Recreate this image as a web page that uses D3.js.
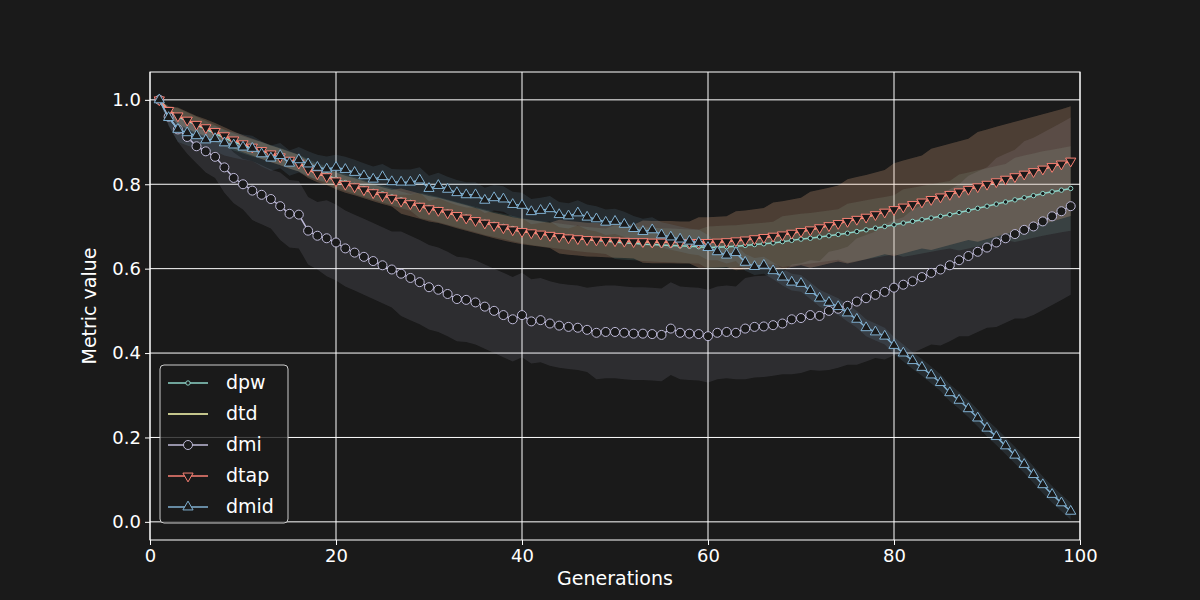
<!DOCTYPE html>
<html lang="en">
<head>
<meta charset="utf-8">
<title>Metric value over generations</title>
<script src="https://cdn.jsdelivr.net/npm/d3@7"></script>
<style>
  html, body { margin: 0; background-color: #1a1a1a; }
  text { font-family: "DejaVu Sans", sans-serif; fill: white; }
</style>
</head>
<body>
<script>
// ---- data ----
var dpw = [1.000,0.975,0.960,0.950,0.940,0.930,0.920,0.910,0.900,0.893,
0.886,0.880,0.873,0.866,0.858,0.850,0.840,0.830,0.822,0.812,
0.804,0.797,0.790,0.783,0.777,0.770,0.763,0.757,0.750,0.745,
0.740,0.734,0.728,0.722,0.716,0.710,0.705,0.700,0.695,0.690,
0.686,0.683,0.680,0.677,0.674,0.671,0.669,0.667,0.665,0.663,
0.661,0.660,0.658,0.657,0.656,0.655,0.654,0.653,0.652,0.650,
0.651,0.652,0.653,0.655,0.657,0.659,0.661,0.664,0.667,0.670,
0.672,0.675,0.678,0.681,0.684,0.688,0.692,0.696,0.700,0.704,
0.708,0.712,0.716,0.720,0.724,0.728,0.733,0.738,0.743,0.748,
0.753,0.758,0.763,0.768,0.773,0.778,0.782,0.786,0.790];
var dtap = [1.000,0.975,0.962,0.952,0.942,0.934,0.925,0.915,0.905,0.896,
0.888,0.880,0.872,0.865,0.857,0.850,0.835,0.825,0.818,0.808,
0.800,0.794,0.787,0.780,0.773,0.767,0.760,0.754,0.748,0.742,
0.738,0.732,0.726,0.720,0.714,0.708,0.702,0.697,0.692,0.688,
0.685,0.682,0.679,0.676,0.673,0.671,0.669,0.668,0.667,0.666,
0.665,0.664,0.664,0.663,0.663,0.663,0.662,0.662,0.662,0.662,
0.663,0.664,0.666,0.668,0.671,0.674,0.677,0.680,0.684,0.688,
0.692,0.697,0.702,0.707,0.712,0.717,0.722,0.728,0.734,0.740,
0.746,0.752,0.758,0.764,0.770,0.776,0.782,0.788,0.794,0.800,
0.806,0.812,0.818,0.824,0.830,0.836,0.842,0.848,0.855];
var dtd = [1.000,0.975,0.962,0.952,0.942,0.934,0.925,0.915,0.905,0.896,
0.888,0.880,0.872,0.865,0.857,0.850,0.835,0.825,0.818,0.808,
0.800,0.794,0.787,0.780,0.773,0.767,0.760,0.754,0.748,0.742,
0.738,0.732,0.726,0.720,0.714,0.708,0.702,0.697,0.692,0.688,
0.685,0.682,0.679,0.676,0.673,0.671,0.669,0.668,0.667,0.666,
0.665,0.664,0.664,0.663,0.663,0.663,0.662,0.662,0.662,0.662,
0.663,0.664,0.666,0.668,0.671,0.674,0.677,0.680,0.684,0.688,
0.692,0.697,0.702,0.707,0.712,0.717,0.722,0.728,0.734,0.740,
0.746,0.752,0.758,0.764,0.770,0.776,0.782,0.788,0.794,0.800,
0.806,0.812,0.818,0.824,0.830,0.836,0.842,0.848,0.855];
var dmi = [1.000,0.960,0.930,0.912,0.890,0.878,0.865,0.840,0.815,0.800,
0.785,0.775,0.765,0.748,0.730,0.728,0.690,0.678,0.672,0.662,
0.648,0.638,0.628,0.618,0.608,0.598,0.588,0.578,0.568,0.556,
0.550,0.540,0.528,0.526,0.520,0.510,0.500,0.490,0.480,0.490,
0.475,0.478,0.470,0.465,0.462,0.460,0.455,0.448,0.450,0.450,
0.448,0.446,0.446,0.445,0.443,0.458,0.448,0.446,0.445,0.440,
0.448,0.450,0.448,0.458,0.462,0.463,0.466,0.470,0.480,0.483,
0.490,0.488,0.500,0.505,0.512,0.522,0.530,0.538,0.545,0.555,
0.562,0.570,0.580,0.590,0.598,0.608,0.620,0.630,0.640,0.650,
0.662,0.672,0.682,0.692,0.700,0.712,0.724,0.736,0.748];
var dmid = [1.000,0.958,0.930,0.922,0.915,0.905,0.908,0.898,0.893,0.888,
0.885,0.872,0.862,0.868,0.850,0.858,0.848,0.840,0.836,0.840,
0.835,0.828,0.820,0.812,0.818,0.806,0.805,0.805,0.810,0.790,
0.797,0.788,0.780,0.775,0.775,0.762,0.768,0.765,0.752,0.750,
0.735,0.738,0.742,0.728,0.725,0.732,0.722,0.718,0.710,0.712,
0.705,0.695,0.688,0.692,0.680,0.675,0.670,0.665,0.662,0.650,
0.640,0.632,0.638,0.615,0.605,0.608,0.595,0.580,0.568,0.565,
0.548,0.530,0.520,0.510,0.495,0.480,0.460,0.450,0.440,0.418,
0.400,0.382,0.366,0.348,0.330,0.306,0.288,0.268,0.246,0.222,
0.202,0.180,0.158,0.136,0.112,0.088,0.065,0.045,0.025];

var tapStd = [0.00,0.01,0.02,0.02,0.02,0.02,0.02,0.02,0.02,0.02,
0.02,0.02,0.02,0.02,0.02,0.02,0.02,0.02,0.02,0.02,
0.02,0.02,0.02,0.02,0.02,0.02,0.03,0.03,0.03,0.03,
0.03,0.03,0.03,0.03,0.03,0.03,0.03,0.03,0.03,0.03,
0.03,0.03,0.03,0.04,0.04,0.04,0.04,0.04,0.04,0.04,
0.04,0.04,0.05,0.05,0.05,0.05,0.05,0.05,0.06,0.06,
0.06,0.06,0.07,0.07,0.07,0.07,0.08,0.08,0.08,0.08,
0.09,0.09,0.09,0.09,0.10,0.10,0.10,0.10,0.10,0.11,
0.11,0.11,0.11,0.12,0.12,0.12,0.12,0.12,0.13,0.13,
0.13,0.13,0.13,0.13,0.13,0.13,0.13,0.13,0.13];
var dpwStd = [0.00,0.01,0.02,0.02,0.02,0.02,0.02,0.02,0.02,0.02,
0.02,0.02,0.02,0.02,0.02,0.02,0.02,0.02,0.02,0.02,
0.02,0.02,0.02,0.02,0.02,0.02,0.02,0.02,0.03,0.03,
0.03,0.03,0.03,0.03,0.03,0.03,0.03,0.03,0.03,0.03,
0.03,0.03,0.03,0.03,0.03,0.03,0.03,0.03,0.03,0.04,
0.04,0.04,0.04,0.04,0.04,0.04,0.04,0.04,0.04,0.05,
0.05,0.05,0.05,0.05,0.05,0.05,0.05,0.06,0.06,0.06,
0.06,0.06,0.06,0.06,0.07,0.07,0.07,0.07,0.07,0.07,
0.08,0.08,0.08,0.08,0.08,0.08,0.09,0.09,0.09,0.09,
0.09,0.09,0.10,0.10,0.10,0.10,0.10,0.10,0.10];
var dmiStd = [0.00,0.02,0.03,0.04,0.04,0.05,0.05,0.06,0.06,0.06,
0.07,0.07,0.07,0.08,0.08,0.08,0.08,0.08,0.09,0.09,
0.09,0.09,0.09,0.09,0.09,0.09,0.10,0.10,0.10,0.10,
0.10,0.10,0.10,0.10,0.10,0.10,0.10,0.10,0.10,0.10,
0.10,0.10,0.10,0.10,0.10,0.10,0.10,0.11,0.11,0.11,
0.11,0.11,0.11,0.11,0.11,0.11,0.11,0.11,0.11,0.11,
0.11,0.11,0.11,0.12,0.12,0.12,0.12,0.12,0.13,0.13,
0.13,0.13,0.14,0.14,0.14,0.15,0.15,0.15,0.16,0.16,
0.16,0.17,0.17,0.17,0.18,0.18,0.18,0.19,0.19,0.19,
0.20,0.20,0.20,0.21,0.21,0.21,0.21,0.21,0.21];
var dmidStd = [0.00,0.02,0.03,0.03,0.03,0.03,0.03,0.03,0.03,0.03,
0.03,0.03,0.03,0.03,0.03,0.03,0.03,0.03,0.03,0.03,
0.03,0.03,0.03,0.03,0.03,0.03,0.03,0.03,0.03,0.03,
0.03,0.03,0.03,0.03,0.03,0.03,0.03,0.03,0.03,0.03,
0.03,0.03,0.03,0.03,0.03,0.03,0.03,0.03,0.03,0.03,
0.03,0.03,0.03,0.03,0.03,0.03,0.03,0.03,0.03,0.03,
0.02,0.02,0.02,0.02,0.02,0.02,0.02,0.02,0.02,0.02,
0.02,0.02,0.02,0.02,0.02,0.02,0.02,0.02,0.02,0.02,
0.02,0.02,0.02,0.02,0.02,0.02,0.02,0.02,0.02,0.02,
0.02,0.02,0.02,0.02,0.02,0.02,0.02,0.02,0.02];

var xTicks = [0, 20, 40, 60, 80, 100];
var yTicks = [0.0, 0.2, 0.4, 0.6, 0.8, 1.0];

var series = [
  {name: "dpw",  values: dpw,  std: dpwStd,  color: "#8dd3c7", marker: "dot"},
  {name: "dtd",  values: dtd,  std: tapStd,  color: "#feffb3", marker: "none"},
  {name: "dmi",  values: dmi,  std: dmiStd,  color: "#bfbbd9", marker: "circle"},
  {name: "dtap", values: dtap, std: tapStd,  color: "#fa8174", marker: "down"},
  {name: "dmid", values: dmid, std: dmidStd, color: "#81b1d2", marker: "up"}
];

var w = 1200, h = 600;
var padL = 150, padR = 1080, padT = 72, padB = 540;

var svg = d3.select("body").append("svg").attr("width", w).attr("height", h);

var x = d3.scaleLinear().domain([0, 100]).range([padL, padR]);
var y = d3.scaleLinear().domain([-0.043, 1.066]).range([padB, padT]);

// grid
svg.append("g").selectAll("line").data(xTicks).enter().append("line")
  .attr("x1", d => x(d)).attr("x2", d => x(d)).attr("y1", padT).attr("y2", padB)
  .attr("stroke", "white").attr("stroke-width", 1);
svg.append("g").selectAll("line").data(yTicks).enter().append("line")
  .attr("y1", d => y(d)).attr("y2", d => y(d)).attr("x1", padL).attr("x2", padR)
  .attr("stroke", "white").attr("stroke-width", 1);

var gen = function(i) { return i + 1; };

// bands
var area = d3.area()
  .x((d, i) => x(gen(i)))
  .y0(d => y(d[0] - d[1]))
  .y1(d => y(d[0] + d[1]));
series.forEach(function(s) {
  svg.append("path")
    .datum(s.values.map((v, i) => [v, s.std[i]]))
    .attr("d", area)
    .attr("fill", s.color)
    .attr("fill-opacity", 0.12);
});

// lines and markers
var line = d3.line().x((d, i) => x(gen(i))).y(d => y(d));
var triUp = d3.symbol().type(d3.symbolTriangle).size(45)();

function drawMarker(g, s, cx, cy) {
  if (s.marker === "dot") {
    g.append("circle").attr("cx", cx).attr("cy", cy).attr("r", 2.2)
      .attr("fill", "#1a1a1a").attr("stroke", s.color).attr("stroke-width", 1);
  } else if (s.marker === "circle") {
    g.append("circle").attr("cx", cx).attr("cy", cy).attr("r", 4.5)
      .attr("fill", "#1a1a1a").attr("stroke", s.color).attr("stroke-width", 1);
  } else if (s.marker === "up" || s.marker === "down") {
    g.append("path").attr("d", triUp)
      .attr("transform", "translate(" + cx + "," + cy + ")" + (s.marker === "down" ? " rotate(180)" : ""))
      .attr("fill", "#1a1a1a").attr("stroke", s.color).attr("stroke-width", 1);
  }
}

series.forEach(function(s) {
  svg.append("path").datum(s.values).attr("d", line)
    .attr("fill", "none").attr("stroke", s.color).attr("stroke-width", 1.5);
  var g = svg.append("g");
  s.values.forEach(function(v, i) { drawMarker(g, s, x(gen(i)), y(v)); });
});

// frame
svg.append("rect").attr("x", padL).attr("y", padT)
  .attr("width", padR - padL).attr("height", padB - padT)
  .attr("fill", "none").attr("stroke", "white").attr("stroke-width", 1);

// axes
var xAxis = svg.append("g").attr("transform", "translate(0," + padB + ")")
  .call(d3.axisBottom(x).tickValues(xTicks).tickSize(5).tickPadding(4));
var yAxis = svg.append("g").attr("transform", "translate(" + padL + ",0)")
  .call(d3.axisLeft(y).tickValues(yTicks).tickFormat(d3.format(".1f")).tickSize(5).tickPadding(4));
[xAxis, yAxis].forEach(function(a) {
  a.select(".domain").remove();
  a.selectAll("line").attr("stroke", "white");
  a.selectAll("text").attr("fill", "white").style("font-size", "18px")
    .style("font-family", "DejaVu Sans, sans-serif");
});

svg.append("text").attr("x", (padL + padR) / 2).attr("y", 585)
  .attr("text-anchor", "middle").style("font-size", "19px").text("Generations");
svg.append("text").attr("transform", "translate(96," + (padT + padB) / 2 + ") rotate(-90)")
  .attr("text-anchor", "middle").style("font-size", "19px").text("Metric value");

// legend
var lg = svg.append("g").attr("transform", "translate(160,365)");
lg.append("rect").attr("width", 128).attr("height", 158).attr("rx", 4)
  .attr("fill", "#1a1a1a").attr("fill-opacity", 0.8).attr("stroke", "#cccccc");
series.forEach(function(s, i) {
  var cy = 18 + i * 31;
  lg.append("line").attr("x1", 8).attr("x2", 48).attr("y1", cy).attr("y2", cy)
    .attr("stroke", s.color).attr("stroke-width", 1.5);
  drawMarker(lg, s, 28, cy);
  lg.append("text").attr("x", 66).attr("y", cy + 6).style("font-size", "19px").text(s.name);
});
</script>
</body>
</html>
